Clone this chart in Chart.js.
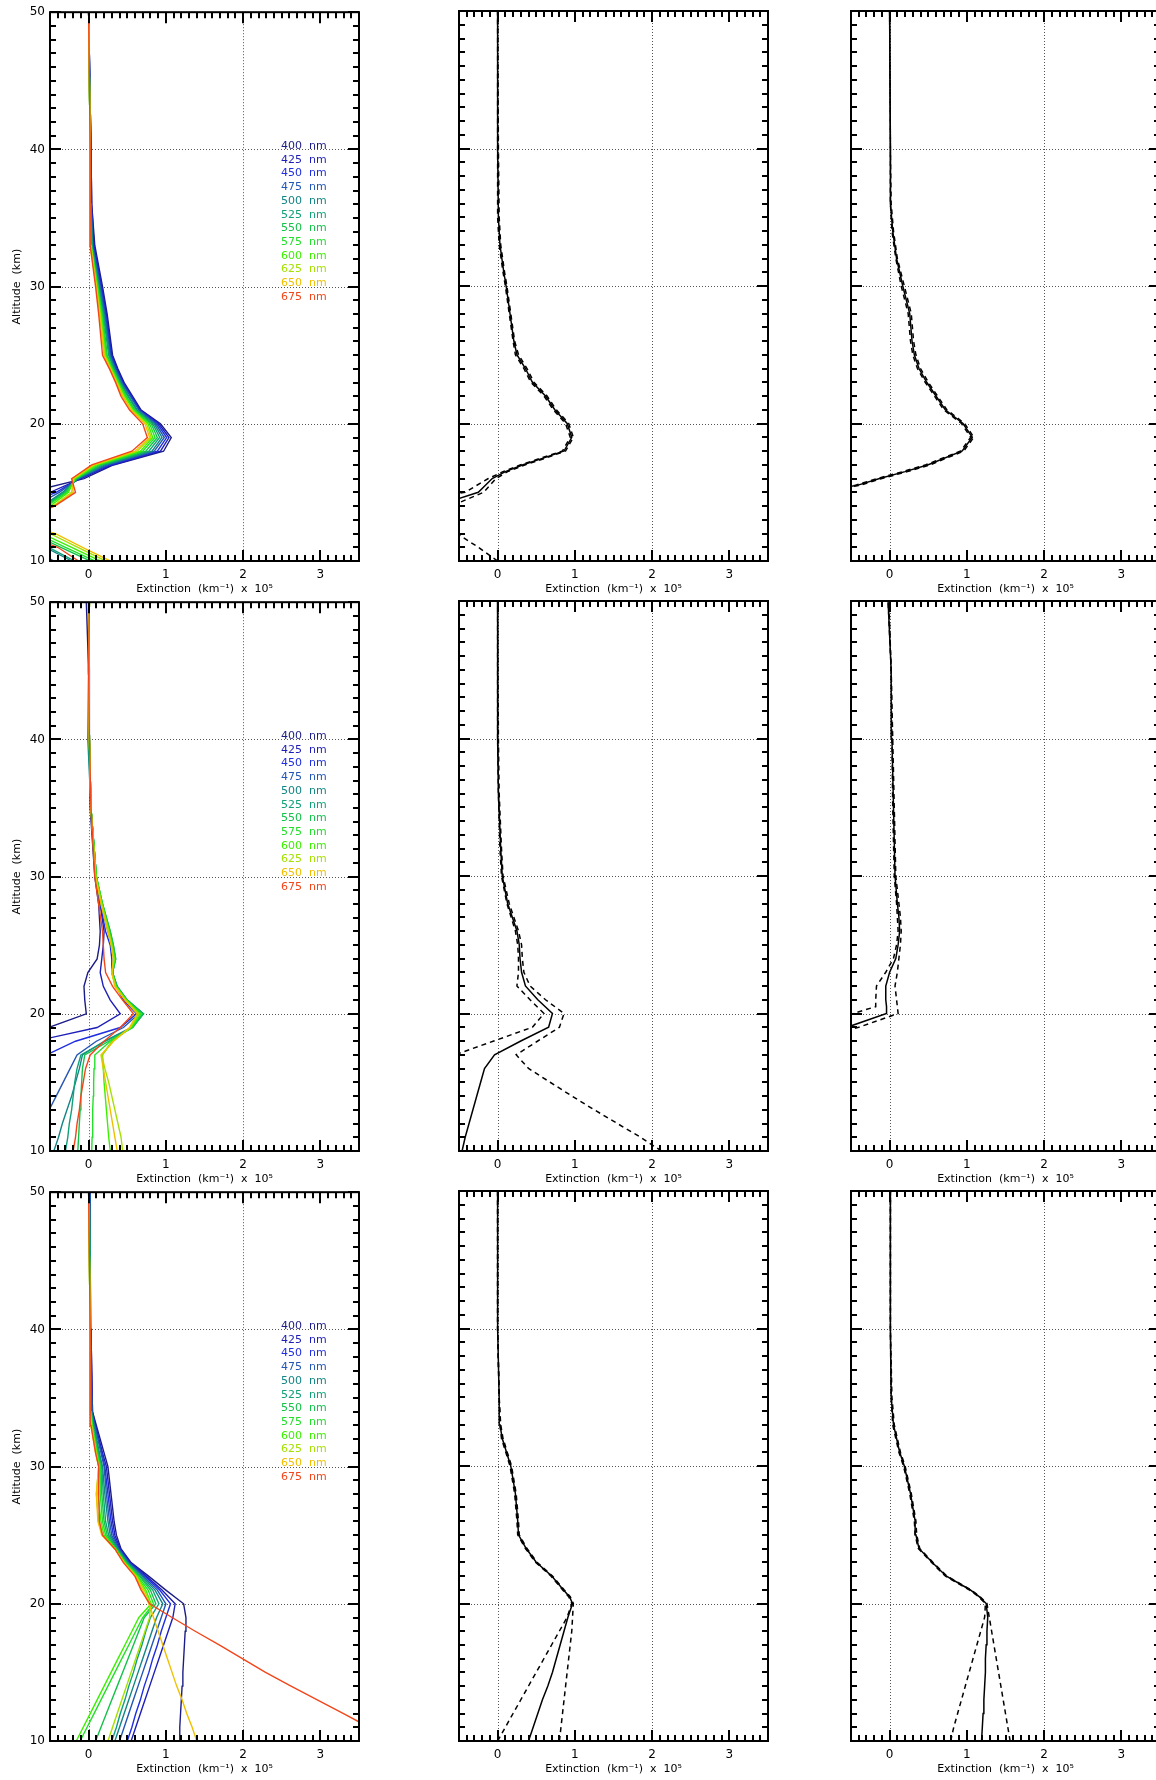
<!DOCTYPE html>
<html>
<head>
<meta charset="utf-8">
<script src="https://cdn.jsdelivr.net/npm/chart.js@4.4.1/dist/chart.umd.min.js"></script>
<style>
  html, body { margin: 0; padding: 0; background: #fff; }
  body { position: relative; width: 1156px; height: 1780px; overflow: hidden; }
  canvas { position: absolute; }
</style>
</head>
<body>
<canvas id="pA" width="371" height="601"></canvas>
<canvas id="pB" width="371" height="601"></canvas>
<canvas id="pC" width="371" height="601"></canvas>
<canvas id="pD" width="371" height="601"></canvas>
<canvas id="pE" width="371" height="601"></canvas>
<canvas id="pF" width="371" height="601"></canvas>
<canvas id="pG" width="371" height="601"></canvas>
<canvas id="pH" width="371" height="601"></canvas>
<canvas id="pI" width="371" height="601"></canvas>
<script>
// axes
const xTicks = [0, 1, 2, 3];
const yTicks = [10, 20, 30, 40, 50];
const xGridValues = [0, 2];
const yGridValues = [20, 30, 40];
const xTitle = 'Extinction  (km\u207B\u00B9)  x  10\u2075';
const yTitle = 'Altitude  (km)';

const wavelengths = ['400', '425', '450', '475', '500', '525', '550', '575', '600', '625', '650', '675'];
const waveColors = ['#1c1c86', '#1e1eb8', '#1f2ee0', '#2456b4', '#138585', '#12a07a', '#14c24a', '#22e02a',
                    '#3cf000', '#a4e000', '#f0c000', '#f2461a'];

// row 1, left: profiles per wavelength (km^-1 x 1e5)
const altsA = [10, 11, 12, 13, 14, 15, 16, 17, 18, 19, 20, 21, 22, 23, 24, 25, 28, 30, 33, 36, 40, 50];
const extA = [
  [-0.8, -1.5, -2.5, -3, -3, -0.79, -0.06, 0.32, 0.97, 1.07, 0.93, 0.68, 0.57, 0.46, 0.38, 0.31, 0.24, 0.18, 0.08, 0.04, 0.03, 0.0],
  [-0.7, -1.2, -2, -3, -1.5, -0.5, -0.1, 0.30, 0.93, 1.04, 0.91, 0.67, 0.56, 0.45, 0.37, 0.30, 0.23, 0.17, 0.07, 0.04, 0.03, 0.0],
  [-0.6, -1.0, -1.8, -2, -0.9, -0.42, -0.12, 0.27, 0.89, 1.01, 0.89, 0.66, 0.55, 0.44, 0.36, 0.29, 0.22, 0.16, 0.06, 0.03, 0.03, 0.0],
  [-0.45, -0.75, -1.5, -1.5, -0.7, -0.38, -0.13, 0.24, 0.85, 0.98, 0.87, 0.65, 0.54, 0.43, 0.35, 0.28, 0.21, 0.15, 0.05, 0.03, 0.03, 0.0],
  [-0.22, -0.56, -1.2, -1.2, -0.6, -0.34, -0.14, 0.21, 0.82, 0.95, 0.85, 0.63, 0.52, 0.42, 0.34, 0.27, 0.20, 0.14, 0.05, 0.03, 0.02, 0.0],
  [-0.18, -0.52, -0.9, -1.2, -0.58, -0.32, -0.15, 0.18, 0.78, 0.92, 0.83, 0.62, 0.51, 0.41, 0.33, 0.26, 0.19, 0.13, 0.04, 0.03, 0.02, 0.0],
  [0.02, -0.36, -0.75, -1.2, -0.56, -0.30, -0.16, 0.15, 0.74, 0.89, 0.81, 0.60, 0.49, 0.40, 0.32, 0.24, 0.18, 0.12, 0.04, 0.02, 0.02, 0.0],
  [0.08, -0.30, -0.68, -1.1, -0.54, -0.28, -0.17, 0.13, 0.70, 0.86, 0.79, 0.59, 0.48, 0.39, 0.31, 0.23, 0.17, 0.12, 0.03, 0.02, 0.02, 0.0],
  [0.15, -0.22, -0.60, -1.0, -0.50, -0.26, -0.18, 0.10, 0.67, 0.83, 0.77, 0.58, 0.47, 0.38, 0.30, 0.22, 0.16, 0.11, 0.03, 0.02, 0.02, 0.0],
  [0.22, -0.14, -0.50, -1.0, -0.46, -0.22, -0.19, 0.08, 0.63, 0.81, 0.75, 0.56, 0.45, 0.37, 0.29, 0.21, 0.15, 0.10, 0.03, 0.02, 0.02, 0.0],
  [0.28, -0.08, -0.43, -1.0, -0.45, -0.20, -0.21, 0.06, 0.60, 0.79, 0.73, 0.55, 0.44, 0.36, 0.28, 0.20, 0.14, 0.10, 0.02, 0.02, 0.02, 0.0],
  [-0.13, -0.40, -0.90, -0.9, -0.44, -0.17, -0.22, 0.04, 0.56, 0.76, 0.70, 0.53, 0.42, 0.35, 0.27, 0.18, 0.13, 0.09, 0.02, 0.02, 0.02, 0.0]
];

// row 1, middle: mean and bounds
const altsB = [10, 11, 12, 13, 14, 15, 16, 16.5, 17, 17.5, 18, 19, 20, 21, 22, 23, 24, 25, 26, 28, 30, 31, 33, 35, 40, 50];
const meanB = [-2, -2, -2, -2, -0.8, -0.25, -0.07, 0.1, 0.33, 0.6, 0.86, 0.96, 0.9, 0.74, 0.62, 0.45, 0.36, 0.25, 0.21, 0.16, 0.11, 0.08, 0.03, 0.01, 0.0, 0.0];
const hiB = [0.0, -0.25, -0.53, -1.5, -0.6, -0.18, -0.02, 0.13, 0.36, 0.63, 0.88, 0.98, 0.92, 0.76, 0.64, 0.47, 0.38, 0.27, 0.22, 0.17, 0.12, 0.09, 0.04, 0.02, 0.01, 0.0];
const loB = [-2, -2, -2, -2, -1.5, -0.42, -0.12, 0.07, 0.3, 0.57, 0.84, 0.94, 0.88, 0.72, 0.6, 0.43, 0.34, 0.23, 0.2, 0.15, 0.1, 0.07, 0.02, 0.0, 0.0, 0.0];

// row 1, right
const altsC = [10, 14, 15, 15.5, 16, 16.5, 17, 18, 19, 20, 21, 22, 23, 24, 25, 26, 28, 30, 32, 34, 36, 40, 50];
const meanC = [-3, -3, -1.0, -0.42, -0.13, 0.2, 0.5, 0.94, 1.07, 0.95, 0.72, 0.6, 0.48, 0.38, 0.32, 0.29, 0.26, 0.17, 0.09, 0.04, 0.01, 0.01, 0.0];
const hiC = [-3, -3, -0.95, -0.39, -0.1, 0.23, 0.53, 0.96, 1.09, 0.97, 0.74, 0.62, 0.5, 0.4, 0.34, 0.31, 0.28, 0.19, 0.1, 0.05, 0.02, 0.01, 0.0];
const loC = [-3, -3, -1.05, -0.45, -0.16, 0.17, 0.47, 0.92, 1.05, 0.93, 0.7, 0.58, 0.46, 0.36, 0.3, 0.27, 0.24, 0.15, 0.08, 0.03, 0.01, 0.01, 0.0];

// row 2, left
const altsD = [10, 11, 12, 13, 14, 15, 16, 17, 18, 19, 20, 21, 22, 23, 24, 25, 26, 28, 30, 35, 40, 45, 50];
const extD = [
  [-3, -3, -3, -3, -3, -3, -3, -3, -2, -0.52, -0.03, -0.05, -0.06, -0.01, 0.11, 0.14, 0.15, 0.13, 0.08, 0.02, 0.01, 0.0, -0.03],
  [-3, -3, -3, -3, -3, -3, -3, -2, -0.7, 0.11, 0.41, 0.28, 0.19, 0.15, 0.17, 0.19, 0.2, 0.15, 0.09, 0.03, 0.01, 0.01, 0.0],
  [-3, -3, -3, -3, -3, -3, -2, -0.55, -0.17, 0.41, 0.62, 0.45, 0.36, 0.3, 0.3, 0.28, 0.22, 0.15, 0.09, 0.03, 0.01, 0.0, 0.0],
  [-1.0, -0.8, -0.6, -0.51, -0.42, -0.33, -0.24, -0.15, 0.1, 0.45, 0.65, 0.48, 0.36, 0.31, 0.33, 0.3, 0.25, 0.16, 0.1, 0.03, 0.01, 0.0, 0.0],
  [-0.45, -0.39, -0.34, -0.28, -0.22, -0.17, -0.12, -0.08, 0.2, 0.55, 0.71, 0.5, 0.37, 0.31, 0.34, 0.31, 0.27, 0.17, 0.1, 0.03, -0.01, 0.0, 0.01],
  [-0.3, -0.27, -0.25, -0.22, -0.2, -0.18, -0.15, -0.1, 0.22, 0.57, 0.71, 0.5, 0.37, 0.31, 0.35, 0.32, 0.28, 0.18, 0.1, 0.03, 0.0, 0.0, 0.01],
  [-0.14, -0.13, -0.12, -0.11, -0.1, -0.09, -0.08, -0.05, 0.26, 0.57, 0.7, 0.5, 0.36, 0.31, 0.35, 0.32, 0.28, 0.18, 0.1, 0.03, 0.01, 0.0, 0.01],
  [0.04, 0.045, 0.05, 0.055, 0.06, 0.065, 0.07, 0.08, 0.28, 0.56, 0.68, 0.49, 0.36, 0.31, 0.34, 0.31, 0.27, 0.18, 0.1, 0.03, 0.01, 0.0, 0.01],
  [0.28, 0.26, 0.245, 0.23, 0.215, 0.2, 0.19, 0.18, 0.3, 0.55, 0.66, 0.49, 0.35, 0.3, 0.33, 0.3, 0.26, 0.17, 0.1, 0.03, 0.01, 0.0, 0.01],
  [0.44, 0.42, 0.38, 0.34, 0.3, 0.26, 0.21, 0.17, 0.32, 0.54, 0.65, 0.48, 0.35, 0.3, 0.33, 0.3, 0.26, 0.17, 0.09, 0.03, 0.01, 0.0, 0.01],
  [0.37, 0.34, 0.31, 0.28, 0.25, 0.22, 0.19, 0.16, 0.32, 0.53, 0.63, 0.47, 0.34, 0.3, 0.32, 0.29, 0.25, 0.16, 0.09, 0.03, 0.01, 0.0, 0.01],
  [-0.2, -0.17, -0.15, -0.12, -0.1, -0.07, -0.04, 0.02, 0.2, 0.41, 0.58, 0.44, 0.31, 0.22, 0.2, 0.19, 0.18, 0.13, 0.08, 0.03, 0.01, 0.0, 0.01]
];

// row 2, middle
const altsE = [10, 11, 12, 13, 14, 15, 16, 17, 18, 19, 20, 21, 22, 23, 24, 25, 26, 28, 30, 32, 36, 40, 50];
const meanE = [-0.46, -0.42, -0.37, -0.32, -0.27, -0.22, -0.17, -0.04, 0.3, 0.66, 0.71, 0.52, 0.36, 0.31, 0.29, 0.28, 0.25, 0.13, 0.06, 0.04, 0.01, 0.0, 0.0];
const hiE = [2.12, 1.85, 1.55, 1.25, 0.96, 0.68, 0.4, 0.24, 0.52, 0.8, 0.86, 0.62, 0.42, 0.34, 0.32, 0.31, 0.27, 0.15, 0.07, 0.05, 0.02, 0.01, 0.0];
const loE = [-3, -3, -3, -3, -3, -3, -1.5, -0.55, -0.05, 0.45, 0.6, 0.42, 0.25, 0.27, 0.27, 0.26, 0.23, 0.12, 0.05, 0.03, 0.01, 0.0, 0.0];

// row 2, right
const altsF = [10, 18, 19, 20, 20.5, 21, 22, 23, 24, 25, 26, 27, 28, 30, 35, 40, 45, 50];
const meanF = [-3, -3, -0.55, -0.04, -0.04, -0.05, -0.05, 0.0, 0.08, 0.11, 0.13, 0.12, 0.1, 0.07, 0.05, 0.03, 0.02, -0.02];
const hiF = [-3, -1.0, -0.4, 0.11, 0.1, 0.09, 0.07, 0.1, 0.12, 0.14, 0.15, 0.14, 0.12, 0.08, 0.06, 0.04, 0.02, -0.01];
const loF = [-3, -3, -3, -0.47, -0.18, -0.18, -0.17, -0.05, 0.05, 0.09, 0.11, 0.1, 0.09, 0.06, 0.04, 0.03, 0.02, -0.02];

// row 3, left
const altsG = [10, 11, 12, 13, 14, 15, 16, 17, 18, 19, 20, 21, 22, 23, 24, 25, 26, 28, 30, 31, 33, 34, 40, 50];
const extG = [
  [1.17, 1.18, 1.19, 1.2, 1.21, 1.22, 1.23, 1.24, 1.25, 1.26, 1.23, 1.0, 0.78, 0.55, 0.42, 0.36, 0.33, 0.29, 0.25, 0.2, 0.1, 0.05, 0.03, 0.02],
  [0.55, 0.61, 0.67, 0.73, 0.79, 0.85, 0.91, 0.97, 1.03, 1.09, 1.12, 0.95, 0.75, 0.54, 0.41, 0.34, 0.31, 0.27, 0.23, 0.18, 0.09, 0.05, 0.03, 0.02],
  [0.5, 0.56, 0.61, 0.67, 0.72, 0.78, 0.83, 0.89, 0.94, 1.0, 1.06, 0.92, 0.73, 0.53, 0.4, 0.32, 0.29, 0.25, 0.21, 0.17, 0.08, 0.04, 0.03, 0.02],
  [0.4, 0.46, 0.52, 0.58, 0.64, 0.7, 0.76, 0.82, 0.88, 0.94, 1.0, 0.89, 0.71, 0.52, 0.39, 0.3, 0.27, 0.23, 0.2, 0.16, 0.08, 0.04, 0.03, 0.01],
  [0.34, 0.4, 0.46, 0.52, 0.58, 0.64, 0.7, 0.76, 0.82, 0.88, 0.96, 0.86, 0.69, 0.51, 0.38, 0.28, 0.25, 0.21, 0.18, 0.14, 0.07, 0.04, 0.02, 0.01],
  [0.3, 0.36, 0.41, 0.47, 0.52, 0.58, 0.63, 0.69, 0.74, 0.8, 0.91, 0.83, 0.67, 0.5, 0.37, 0.26, 0.22, 0.19, 0.17, 0.13, 0.06, 0.03, 0.02, 0.01],
  [0.09, 0.16, 0.23, 0.3, 0.37, 0.44, 0.51, 0.58, 0.65, 0.72, 0.87, 0.8, 0.66, 0.49, 0.36, 0.24, 0.2, 0.17, 0.16, 0.12, 0.05, 0.03, 0.02, 0.01],
  [-0.11, -0.02, 0.07, 0.16, 0.25, 0.34, 0.43, 0.52, 0.61, 0.7, 0.84, 0.77, 0.64, 0.48, 0.35, 0.22, 0.18, 0.15, 0.15, 0.11, 0.05, 0.03, 0.02, 0.0],
  [-0.16, -0.07, 0.02, 0.11, 0.2, 0.29, 0.38, 0.47, 0.56, 0.65, 0.81, 0.74, 0.63, 0.47, 0.35, 0.2, 0.16, 0.12, 0.14, 0.1, 0.04, 0.02, 0.02, 0.0],
  [0.25, 0.31, 0.37, 0.43, 0.49, 0.55, 0.61, 0.67, 0.73, 0.79, 0.8, 0.72, 0.62, 0.46, 0.34, 0.18, 0.13, 0.1, 0.13, 0.1, 0.04, 0.02, 0.02, 0.0],
  [1.4, 1.34, 1.27, 1.21, 1.14, 1.08, 1.02, 0.96, 0.9, 0.84, 0.78, 0.7, 0.61, 0.46, 0.34, 0.17, 0.12, 0.1, 0.13, 0.09, 0.03, 0.02, 0.02, 0.0],
  [3.95, 3.63, 3.3, 2.96, 2.62, 2.29, 1.99, 1.69, 1.38, 1.08, 0.79, 0.68, 0.6, 0.45, 0.34, 0.18, 0.14, 0.13, 0.13, 0.09, 0.03, 0.02, 0.02, 0.0]
];

// row 3, middle
const altsH = [10, 11, 12, 13, 14, 15, 16, 17, 18, 19, 20, 20.5, 21, 22, 23, 24, 25, 26, 28, 30, 32, 33, 35, 40, 50];
const meanH = [0.4, 0.46, 0.52, 0.58, 0.65, 0.71, 0.76, 0.81, 0.86, 0.91, 0.97, 0.93, 0.85, 0.7, 0.5, 0.37, 0.27, 0.26, 0.23, 0.17, 0.06, 0.03, 0.02, 0.0, 0.0];
const hiH = [0.8, 0.82, 0.84, 0.86, 0.88, 0.9, 0.92, 0.94, 0.96, 0.97, 0.98, 0.94, 0.86, 0.71, 0.51, 0.38, 0.28, 0.27, 0.24, 0.18, 0.07, 0.04, 0.02, 0.0, 0.0];
const loH = [0.0, 0.1, 0.2, 0.3, 0.4, 0.5, 0.6, 0.7, 0.8, 0.9, 0.96, 0.92, 0.84, 0.69, 0.49, 0.36, 0.26, 0.25, 0.22, 0.16, 0.05, 0.03, 0.02, 0.0, 0.0];

// row 3, right
const altsI = [10, 11, 12, 13, 14, 15, 16, 17, 18, 19, 20, 20.5, 21, 22, 23, 24, 25, 26, 28, 30, 31, 33, 35, 40, 50];
const meanI = [1.19, 1.2, 1.21, 1.22, 1.23, 1.24, 1.24, 1.25, 1.26, 1.27, 1.25, 1.16, 1.04, 0.73, 0.55, 0.38, 0.34, 0.33, 0.27, 0.19, 0.13, 0.05, 0.02, 0.01, 0.01];
const hiI = [1.56, 1.53, 1.5, 1.47, 1.44, 1.41, 1.38, 1.35, 1.32, 1.29, 1.26, 1.17, 1.05, 0.74, 0.56, 0.39, 0.35, 0.34, 0.28, 0.2, 0.14, 0.06, 0.03, 0.01, 0.01];
const loI = [0.79, 0.83, 0.88, 0.93, 0.98, 1.03, 1.08, 1.13, 1.18, 1.23, 1.24, 1.15, 1.03, 0.72, 0.54, 0.37, 0.33, 0.32, 0.26, 0.18, 0.12, 0.04, 0.02, 0.01, 0.01];

const fontFamily = '"DejaVu Sans", "Liberation Sans", sans-serif';

function toPoints(alts, vals) {
  return vals.map((v, j) => ({ x: v, y: alts[j] }));
}

// longer wavelengths are drawn on top, as in the original
function colorSets(alts, rows) {
  return rows.map((vals, i) => ({
    label: wavelengths[i] + ' nm',
    data: toPoints(alts, vals),
    borderColor: waveColors[i],
    borderWidth: 1.4,
    showLine: true,
    pointRadius: 0,
    clip: 0,
    order: rows.length - i
  }));
}

function blackSets(alts, mean, hi, lo) {
  const line = (vals, dash, order) => ({
    data: toPoints(alts, vals),
    borderColor: '#000',
    borderWidth: 1.5,
    borderDash: dash,
    showLine: true,
    pointRadius: 0,
    clip: 0,
    order: order
  });
  return [line(mean, [], 0), line(hi, [5, 4], 1), line(lo, [5, 4], 2)];
}

// dotted grid, inward ticks, frame box and the wavelength list
const framePlugin = {
  id: 'frame',
  beforeDatasetsDraw(chart) {
    const { ctx, chartArea: a, scales: { x, y } } = chart;
    ctx.save();
    ctx.strokeStyle = '#555';
    ctx.lineWidth = 1;
    ctx.setLineDash([1, 2]);
    ctx.beginPath();
    xGridValues.forEach(v => {
      const px = Math.round(x.getPixelForValue(v)) + 0.5;
      ctx.moveTo(px, a.top);
      ctx.lineTo(px, a.bottom);
    });
    yGridValues.forEach(v => {
      const py = Math.round(y.getPixelForValue(v)) + 0.5;
      ctx.moveTo(a.left, py);
      ctx.lineTo(a.right, py);
    });
    ctx.stroke();
    ctx.restore();
  },
  afterDraw(chart, args, opts) {
    const ctx = chart.ctx;
    const a = chart.chartArea;
    const x = chart.scales.x;
    const y = chart.scales.y;
    ctx.save();
    ctx.setLineDash([]);
    ctx.strokeStyle = '#000';
    ctx.lineWidth = 2;
    for (let k = -5; k <= 35; k++) {
      const px = Math.round(x.getPixelForValue(k / 10));
      const len = k % 10 === 0 ? 11 : 6;
      ctx.beginPath();
      ctx.moveTo(px, a.bottom);
      ctx.lineTo(px, a.bottom - len);
      ctx.moveTo(px, a.top);
      ctx.lineTo(px, a.top + len);
      ctx.stroke();
    }
    for (let v = 10; v <= 50; v++) {
      const py = Math.round(y.getPixelForValue(v));
      const len = v % 10 === 0 ? 11 : 6;
      ctx.beginPath();
      ctx.moveTo(a.left, py);
      ctx.lineTo(a.left + len, py);
      ctx.moveTo(a.right, py);
      ctx.lineTo(a.right - len, py);
      ctx.stroke();
    }
    ctx.strokeRect(a.left, a.top, a.right - a.left, a.bottom - a.top);

    if (opts.legend) {
      ctx.font = '11px ' + fontFamily;
      ctx.textBaseline = 'middle';
      ctx.textAlign = 'left';
      wavelengths.forEach((w, i) => {
        const ly = a.top + 134 + i * 13.7;
        ctx.fillStyle = waveColors[i];
        ctx.fillText(w, a.left + 231, ly);
        ctx.fillText('nm', a.left + 259, ly);
      });
    }
    ctx.restore();
  }
};

function makePanel(id, left, top, datasets, showY, legend) {
  const el = document.getElementById(id);
  el.style.left = (left - 50) + 'px';
  el.style.top = (top - 11) + 'px';
  new Chart(el, {
    type: 'scatter',
    data: { datasets: datasets },
    plugins: [framePlugin],
    options: {
      responsive: false,
      animation: false,
      layout: { padding: { top: 11, right: 12, left: 0, bottom: 0 } },
      plugins: {
        legend: { display: false },
        tooltip: { enabled: false },
        frame: { legend: legend }
      },
      scales: {
        x: {
          type: 'linear',
          min: -0.5,
          max: 3.5,
          afterBuildTicks: s => { s.ticks = xTicks.map(v => ({ value: v })); },
          afterFit: s => { s.height = 40; },
          grid: { display: false, drawTicks: false },
          border: { display: false },
          ticks: { padding: 7, color: '#000', font: { family: fontFamily, size: 12 }, callback: v => String(v) },
          title: {
            display: true, text: xTitle, color: '#000',
            font: { family: fontFamily, size: 11 },
            padding: { top: 0, bottom: 5 }
          }
        },
        y: {
          type: 'linear',
          min: 10,
          max: 50,
          afterBuildTicks: s => { s.ticks = yTicks.map(v => ({ value: v })); },
          afterFit: s => { s.width = 50; },
          grid: { display: false, drawTicks: false },
          border: { display: false },
          ticks: { display: showY, padding: 5, color: '#000', font: { family: fontFamily, size: 12 }, callback: v => String(v) },
          title: {
            display: showY, text: yTitle, color: '#000',
            font: { family: fontFamily, size: 11 },
            padding: { top: 11, bottom: 0 }
          }
        }
      }
    }
  });
}

const colLeft = [50, 459, 851];
const rowTop = [11, 601, 1191];

makePanel('pA', colLeft[0], rowTop[0], colorSets(altsA, extA), true, true);
makePanel('pB', colLeft[1], rowTop[0], blackSets(altsB, meanB, hiB, loB), false, false);
makePanel('pC', colLeft[2], rowTop[0], blackSets(altsC, meanC, hiC, loC), false, false);
makePanel('pD', colLeft[0], rowTop[1], colorSets(altsD, extD), true, true);
makePanel('pE', colLeft[1], rowTop[1], blackSets(altsE, meanE, hiE, loE), false, false);
makePanel('pF', colLeft[2], rowTop[1], blackSets(altsF, meanF, hiF, loF), false, false);
makePanel('pG', colLeft[0], rowTop[2], colorSets(altsG, extG), true, true);
makePanel('pH', colLeft[1], rowTop[2], blackSets(altsH, meanH, hiH, loH), false, false);
makePanel('pI', colLeft[2], rowTop[2], blackSets(altsI, meanI, hiI, loI), false, false);
</script>
</body>
</html>
